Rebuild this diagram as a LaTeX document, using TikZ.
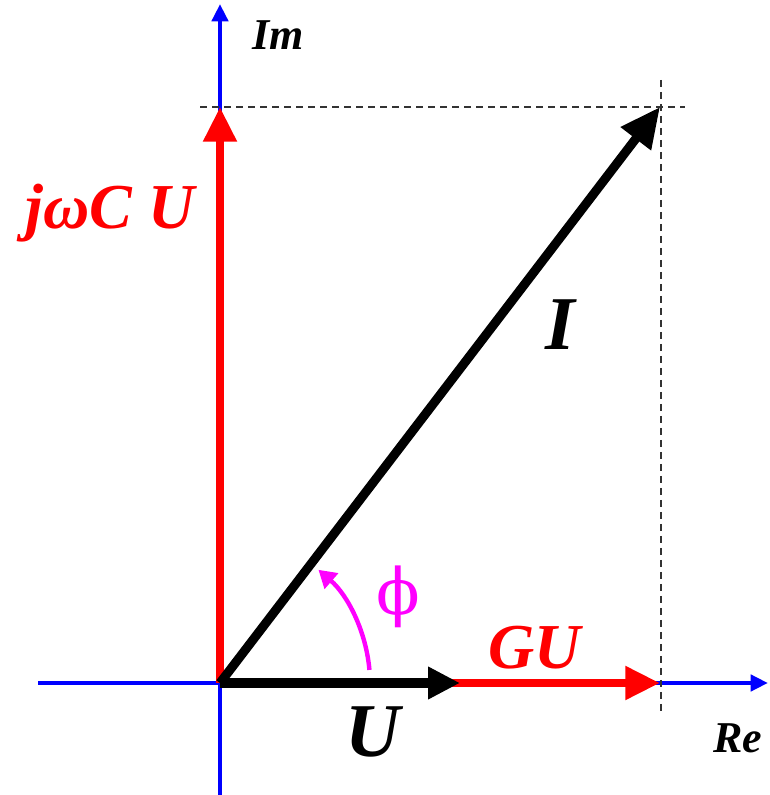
\documentclass[tikz,border=0pt]{standalone}
\usepackage{fontspec}
\setmainfont{Liberation Serif}
\newfontfamily\phifont{DejaVu Serif}
\usepackage{tikz}
\usetikzlibrary{arrows.meta, positioning, calc}
\usepackage{xcolor}
\definecolor{axisblue}{RGB}{0,0,255}
\definecolor{phasered}{RGB}{255,0,0}
\definecolor{anglemag}{RGB}{255,0,255}

\tikzset{
  axisline/.style={axisblue, line width=3.5pt, -{Triangle[length=13pt, width=12pt]}},
  redvec/.style={phasered, line width=6pt, -{Triangle[length=26pt, width=24pt]}},
  blackvec/.style={black, line width=6.8pt, -{Triangle[length=24pt, width=23pt]}},
  guide/.style={black!80, line width=1.4pt, dash pattern=on 5pt off 4pt},
  redlabel/.style={phasered, font=\bfseries\itshape\fontsize{48}{50}\selectfont},
  biglabel/.style={font=\bfseries\itshape\fontsize{57}{60}\selectfont},
  axislabel/.style={font=\bfseries\itshape\fontsize{33}{36}\selectfont}
}

\begin{document}
\begin{tikzpicture}[x=0.75pt, y=0.75pt]
  \useasboundingbox (0,0) rectangle (770,795);
  % points
  \coordinate (O) at (220,112);
  \coordinate (P) at (660,688);
  \coordinate (Ure) at (460,112);
  \coordinate (GUre) at (660,112);
  \coordinate (Cim) at (220,688);
  \coordinate (ReEnd) at (768,112);
  \coordinate (ReStart) at (38,112);
  \coordinate (ImEnd) at (220,791);
  \coordinate (ImStart) at (220,0);
  % axes
  \draw[axisline] (ReStart) -- (ReEnd);
  \draw[axisline] (ImStart) -- (ImEnd);
  \node[axislabel] (re) at (738,57) {Re};
  \node[axislabel] (im) at (278,760) {Im};
  % guide lines
  \draw[guide] (200,688) -- (685,688);
  \draw[guide] (661,715) -- (661,83);
  % red components
  \draw[redvec] (O) -- (Cim);
  \draw[redvec] (O) -- (GUre);
  % voltage and current
  \draw[blackvec] (O) -- (Ure);
  \draw[blackvec, -{Triangle[length=30pt, width=27pt]}] (O) -- (P);
  % angle
  \draw[anglemag, line width=3.3pt, -{Triangle[length=13pt, width=15pt]}]
    ($(O)+(5:150)$) arc[start angle=5, end angle=49, radius=150];
  \node[anglemag, font=\phifont\fontsize{48}{50}\selectfont] (phi) at (398,198) {ϕ};
  % labels
  \node[redlabel] (jwcu) at (110,582) {jωC U};
  \node[redlabel] (gu) at (535,147) {GU};
  \node[biglabel] (ulab) at (373,63) {U};
  \node[biglabel] (ilab) at (560,470) {I};
\end{tikzpicture}
\end{document}
